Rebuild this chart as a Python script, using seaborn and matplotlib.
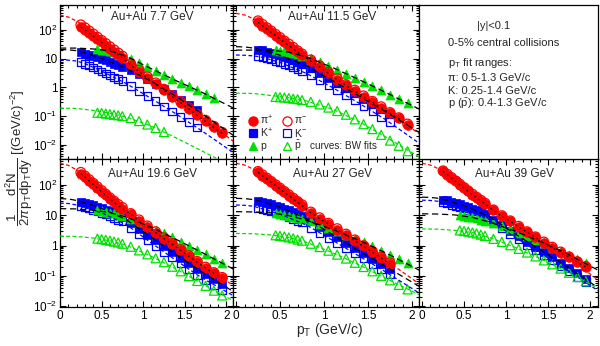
import numpy as np
import pandas as pd
import matplotlib
matplotlib.use("Agg")
import matplotlib.pyplot as plt
import seaborn as sns
from matplotlib.ticker import LogLocator, MultipleLocator, FuncFormatter, NullFormatter

sns.set_theme(style="ticks")
plt.rcParams['font.family'] = ['Liberation Sans', 'DejaVu Sans']
plt.rcParams['mathtext.fontset'] = 'custom'
plt.rcParams['mathtext.rm'] = 'Liberation Sans'
plt.rcParams['mathtext.it'] = 'Liberation Sans:italic'
plt.rcParams['mathtext.bf'] = 'Liberation Sans:bold'
plt.rcParams['mathtext.sf'] = 'Liberation Sans'

# ---------------- data (log10 of yield) ----------------
energies = ["7.7", "11.5", "19.6", "27", "39"]
pt_lo = [0.25, 0.30, 0.35, 0.40, 0.45, 0.50, 0.55, 0.60, 0.65, 0.70, 0.75]
pt_plo = [0.45, 0.50, 0.55, 0.60, 0.65, 0.70, 0.75]
pt_hi = [0.85, 0.95, 1.05, 1.15, 1.25, 1.35, 1.45, 1.55, 1.65, 1.75, 1.85, 1.95]
pt_pi = pt_lo + pt_hi
pt_k = pt_lo + pt_hi
pt_p = pt_plo + pt_hi
fit_pt = [0.0, 0.1, 0.2, 0.3, 0.5, 0.8, 1.1, 1.4, 1.7, 2.1]
fit_pt_p = [0.0, 0.2, 0.4, 0.6, 0.8, 1.1, 1.4, 1.7, 2.1]

# 7.7 GeV
log_pip_77 = [2.10, 2.00, 1.89, 1.78, 1.67, 1.57, 1.46, 1.35, 1.25, 1.14, 1.03, 0.78, 0.55, 0.33, 0.12, -0.10, -0.32, -0.53, -0.75, -0.97, -1.18, -1.39, -1.60]
log_pim_77 = [2.18, 2.08, 1.97, 1.86, 1.75, 1.64, 1.53, 1.42, 1.31, 1.20, 1.09, 0.83, 0.60, 0.37, 0.16, -0.06, -0.28, -0.49, -0.71, -0.93, -1.14, -1.35, -1.56]
log_kp_77 = [1.22, 1.18, 1.14, 1.10, 1.05, 1.00, 0.95, 0.89, 0.83, 0.77, 0.71, 0.60, 0.46, 0.30, 0.12, -0.05, -0.23, -0.42, -0.60, -0.80]
log_km_77 = [0.88, 0.82, 0.76, 0.70, 0.63, 0.56, 0.49, 0.42, 0.35, 0.29, 0.22, 0.05, -0.12, -0.30, -0.48, -0.66, -0.84, -1.02, -1.20, -1.40]
log_pp_77 = [1.33, 1.32, 1.30, 1.27, 1.24, 1.20, 1.15, 1.00, 0.86, 0.72, 0.58, 0.44, 0.30, 0.17, 0.04, -0.09, -0.23, -0.36]
log_pb_77 = [-0.88, -0.89, -0.91, -0.93, -0.95, -0.97, -1.00, -1.06, -1.17, -1.29, -1.41, -1.55]
fit_pi_77 = [2.52, 2.45, 2.31, 2.12, 1.66, 0.97, 0.30, -0.38, -1.03, -1.91]
fit_kp_77 = [1.32, 1.31, 1.28, 1.21, 1.01, 0.66, 0.21, -0.32, -0.90, -1.70]
fit_km_77 = [0.96, 0.95, 0.92, 0.83, 0.57, 0.13, -0.39, -0.93, -1.50, -2.30]
fit_pp_77 = [1.37, 1.37, 1.34, 1.27, 1.08, 0.65, 0.23, -0.16, -0.74]
fit_pb_77 = [-0.72, -0.73, -0.80, -0.90, -1.03, -1.35, -1.76, -2.20, -2.80]

# 11.5 GeV
log_pip_115 = [2.27, 2.15, 2.03, 1.92, 1.80, 1.69, 1.57, 1.46, 1.35, 1.23, 1.12, 0.92, 0.72, 0.49, 0.27, 0.07, -0.12, -0.32, -0.51, -0.70, -0.90, -1.08, -1.30]
log_pim_115 = [2.32, 2.20, 2.08, 1.97, 1.85, 1.74, 1.62, 1.51, 1.40, 1.28, 1.17, 0.96, 0.76, 0.53, 0.31, 0.10, -0.09, -0.29, -0.48, -0.67, -0.87, -1.05, -1.27]
log_kp_115 = [1.32, 1.29, 1.25, 1.21, 1.17, 1.12, 1.07, 1.02, 0.96, 0.90, 0.83, 0.66, 0.49, 0.32, 0.14, -0.03, -0.21, -0.39, -0.57, -0.75, -0.93]
log_km_115 = [1.09, 1.05, 1.01, 0.97, 0.92, 0.87, 0.82, 0.76, 0.70, 0.63, 0.56, 0.42, 0.25, 0.08, -0.10, -0.28, -0.46, -0.64, -0.83, -1.02, -1.21]
log_pp_115 = [1.30, 1.28, 1.26, 1.23, 1.19, 1.15, 1.11, 1.01, 0.89, 0.76, 0.62, 0.48, 0.34, 0.20, 0.05, -0.10, -0.25, -0.40, -0.55]
log_pb_115 = [-0.33, -0.34, -0.35, -0.37, -0.39, -0.41, -0.44, -0.50, -0.59, -0.70, -0.82, -0.95, -1.11, -1.28, -1.45, -1.65, -1.85, -2.03, -2.22]
fit_pi_115 = [2.58, 2.52, 2.39, 2.20, 1.74, 1.06, 0.42, -0.19, -0.78, -1.65]
fit_kp_115 = [1.42, 1.41, 1.37, 1.30, 1.12, 0.75, 0.23, -0.30, -0.84, -1.60]
fit_km_115 = [1.13, 1.12, 1.10, 1.05, 0.87, 0.49, -0.01, -0.55, -1.12, -1.98]
fit_pp_115 = [1.30, 1.30, 1.29, 1.23, 1.06, 0.69, 0.27, -0.17, -0.78]
fit_pb_115 = [-0.20, -0.21, -0.28, -0.36, -0.47, -0.76, -1.19, -1.72, -2.45]

# 19.6 GeV
log_pip_196 = [2.38, 2.26, 2.14, 2.02, 1.90, 1.78, 1.66, 1.54, 1.43, 1.32, 1.22, 1.03, 0.82, 0.62, 0.43, 0.23, 0.04, -0.16, -0.36, -0.55, -0.74, -0.92, -1.08]
log_pim_196 = [2.42, 2.30, 2.18, 2.06, 1.94, 1.82, 1.70, 1.58, 1.47, 1.36, 1.26, 1.06, 0.85, 0.65, 0.46, 0.26, 0.07, -0.13, -0.33, -0.52, -0.71, -0.89, -1.05]
log_kp_196 = [1.45, 1.41, 1.37, 1.33, 1.28, 1.23, 1.18, 1.13, 1.07, 1.01, 0.95, 0.75, 0.55, 0.36, 0.17, -0.02, -0.21, -0.40, -0.59, -0.77, -0.94, -1.10, -1.26]
log_km_196 = [1.30, 1.26, 1.22, 1.18, 1.13, 1.08, 1.03, 0.97, 0.91, 0.85, 0.79, 0.58, 0.38, 0.18, -0.02, -0.21, -0.40, -0.59, -0.78, -0.97, -1.15, -1.31, -1.47]
log_pp_196 = [1.16, 1.14, 1.12, 1.09, 1.06, 1.02, 0.98, 0.89, 0.78, 0.66, 0.53, 0.40, 0.27, 0.13, -0.01, -0.15, -0.29, -0.43, -0.58]
log_pb_196 = [0.23, 0.21, 0.19, 0.16, 0.13, 0.10, 0.06, -0.04, -0.16, -0.29, -0.42, -0.55, -0.70, -0.85, -1.01, -1.17, -1.33, -1.49, -1.65]
fit_pi_196 = [2.72, 2.65, 2.50, 2.30, 1.82, 1.16, 0.56, -0.03, -0.62, -1.35]
fit_kp_196 = [1.55, 1.54, 1.49, 1.41, 1.23, 0.85, 0.27, -0.31, -0.86, -1.55]
fit_km_196 = [1.40, 1.39, 1.34, 1.26, 1.08, 0.69, 0.08, -0.50, -1.06, -1.68]
fit_pp_196 = [1.22, 1.21, 1.17, 1.09, 0.94, 0.60, 0.20, -0.22, -0.80]
fit_pb_196 = [0.31, 0.30, 0.25, 0.16, 0.01, -0.36, -0.78, -1.25, -1.85]

# 27 GeV
log_pip_27 = [2.42, 2.31, 2.20, 2.09, 1.98, 1.87, 1.76, 1.65, 1.54, 1.43, 1.32, 1.08, 0.89, 0.71, 0.53, 0.35, 0.16, -0.03, -0.22, -0.41, -0.60]
log_pim_27 = [2.45, 2.34, 2.23, 2.12, 2.01, 1.90, 1.79, 1.68, 1.57, 1.46, 1.35, 1.11, 0.92, 0.74, 0.56, 0.38, 0.19, 0.00, -0.19, -0.38, -0.57]
log_kp_27 = [1.48, 1.45, 1.41, 1.37, 1.32, 1.27, 1.22, 1.16, 1.10, 1.04, 0.98, 0.80, 0.62, 0.45, 0.27, 0.09, -0.09, -0.26, -0.43, -0.60, -0.77]
log_km_27 = [1.25, 1.21, 1.17, 1.13, 1.09, 1.04, 0.99, 0.94, 0.88, 0.82, 0.76, 0.59, 0.42, 0.25, 0.08, -0.09, -0.26, -0.43, -0.60, -0.78, -0.95]
log_pp_27 = [1.06, 1.04, 1.02, 0.99, 0.96, 0.92, 0.88, 0.80, 0.70, 0.59, 0.47, 0.35, 0.23, 0.11, -0.03, -0.17, -0.31, -0.45, -0.59]
log_pb_27 = [0.34, 0.32, 0.30, 0.27, 0.24, 0.20, 0.16, 0.06, -0.05, -0.17, -0.30, -0.43, -0.57, -0.71, -0.85, -1.00, -1.15, -1.30, -1.45]
fit_pi_27 = [2.72, 2.66, 2.52, 2.34, 1.90, 1.23, 0.65, 0.10, -0.48, -1.30]
fit_kp_27 = [1.56, 1.55, 1.52, 1.45, 1.27, 0.89, 0.36, -0.18, -0.69, -1.38]
fit_km_27 = [1.34, 1.33, 1.30, 1.21, 1.04, 0.68, 0.17, -0.35, -0.87, -1.60]
fit_pp_27 = [1.12, 1.11, 1.08, 0.99, 0.84, 0.53, 0.17, -0.24, -0.84]
fit_pb_27 = [0.40, 0.39, 0.35, 0.27, 0.11, -0.24, -0.64, -1.08, -1.65]

# 39 GeV
log_pip_39 = [2.45, 2.34, 2.23, 2.12, 2.01, 1.90, 1.79, 1.68, 1.58, 1.48, 1.38, 1.16, 0.97, 0.80, 0.62, 0.44, 0.27, 0.10, -0.07, -0.23, -0.39, -0.55, -0.71]
log_pim_39 = [2.47, 2.36, 2.25, 2.14, 2.03, 1.92, 1.81, 1.70, 1.60, 1.50, 1.40, 1.18, 0.99, 0.82, 0.64, 0.46, 0.29, 0.12, -0.05, -0.21, -0.37, -0.53, -0.69]
log_kp_39 = [1.52, 1.49, 1.45, 1.41, 1.37, 1.32, 1.27, 1.22, 1.17, 1.11, 1.05, 0.86, 0.67, 0.49, 0.31, 0.13, -0.04, -0.21, -0.38, -0.56, -0.74, -0.92, -1.10]
log_km_39 = [1.42, 1.39, 1.35, 1.31, 1.27, 1.22, 1.17, 1.12, 1.07, 1.01, 0.95, 0.75, 0.56, 0.38, 0.20, 0.02, -0.15, -0.32, -0.49, -0.67, -0.85, -1.03, -1.21]
log_pp_39 = [1.00, 0.98, 0.96, 0.93, 0.90, 0.86, 0.82, 0.74, 0.64, 0.54, 0.43, 0.32, 0.20, 0.08, -0.04, -0.17, -0.30, -0.44, -0.58]
log_pb_39 = [0.50, 0.48, 0.46, 0.43, 0.40, 0.36, 0.32, 0.22, 0.12, 0.01, -0.11, -0.23, -0.36, -0.49, -0.62, -0.76, -0.90, -1.04, -1.18]
fit_pi_39 = [2.72, 2.66, 2.53, 2.36, 1.92, 1.29, 0.73, 0.20, -0.30, -1.15]
fit_kp_39 = [1.60, 1.59, 1.56, 1.49, 1.32, 0.96, 0.40, -0.13, -0.65, -1.40]
fit_km_39 = [1.50, 1.49, 1.46, 1.39, 1.22, 0.85, 0.29, -0.24, -0.76, -1.50]
fit_pp_39 = [1.05, 1.04, 1.01, 0.93, 0.78, 0.485, 0.14, -0.235, -0.82]
fit_pb_39 = [0.55, 0.54, 0.50, 0.43, 0.27, -0.05, -0.425, -0.83, -1.42]

points = {
    "7.7": dict(pip=log_pip_77, pim=log_pim_77, kp=log_kp_77, km=log_km_77, pp=log_pp_77, pb=log_pb_77),
    "11.5": dict(pip=log_pip_115, pim=log_pim_115, kp=log_kp_115, km=log_km_115, pp=log_pp_115, pb=log_pb_115),
    "19.6": dict(pip=log_pip_196, pim=log_pim_196, kp=log_kp_196, km=log_km_196, pp=log_pp_196, pb=log_pb_196),
    "27": dict(pip=log_pip_27, pim=log_pim_27, kp=log_kp_27, km=log_km_27, pp=log_pp_27, pb=log_pb_27),
    "39": dict(pip=log_pip_39, pim=log_pim_39, kp=log_kp_39, km=log_km_39, pp=log_pp_39, pb=log_pb_39),
}
fits = {
    "7.7": dict(pi=fit_pi_77, kp=fit_kp_77, km=fit_km_77, pp=fit_pp_77, pb=fit_pb_77),
    "11.5": dict(pi=fit_pi_115, kp=fit_kp_115, km=fit_km_115, pp=fit_pp_115, pb=fit_pb_115),
    "19.6": dict(pi=fit_pi_196, kp=fit_kp_196, km=fit_km_196, pp=fit_pp_196, pb=fit_pb_196),
    "27": dict(pi=fit_pi_27, kp=fit_kp_27, km=fit_km_27, pp=fit_pp_27, pb=fit_pb_27),
    "39": dict(pi=fit_pi_39, kp=fit_kp_39, km=fit_km_39, pp=fit_pp_39, pb=fit_pb_39),
}

RED, BLUE, GREEN = "#ff0000", "#0000ff", "#00e000"
pt_of = dict(pip=pt_pi, pim=pt_pi, kp=pt_k, km=pt_k, pp=pt_p, pb=pt_p)
mstyle = {
    "pim": dict(marker="o", s=48, facecolor="none", edgecolor=RED, linewidth=0.9),
    "pip": dict(marker="o", s=48, facecolor=RED, edgecolor=RED, linewidth=0.5),
    "km": dict(marker="s", s=30, facecolor="none", edgecolor=BLUE, linewidth=0.9),
    "kp": dict(marker="s", s=30, facecolor=BLUE, edgecolor=BLUE, linewidth=0.5),
    "pb": dict(marker="^", s=42, facecolor="none", edgecolor=GREEN, linewidth=0.9),
    "pp": dict(marker="^", s=42, facecolor=GREEN, edgecolor=GREEN, linewidth=0.5),
}
draw_order = ["km", "kp", "pb", "pp", "pim", "pip"]

rows = []
for e in energies:
    for sp, vals in points[e].items():
        for x, v in zip(pt_of[sp], vals):
            rows.append(dict(energy=e, species=sp, pt=x, y=10.0 ** v))
df = pd.DataFrame(rows)

frows = []
for e in energies:
    for sp, vals in fits[e].items():
        xs = fit_pt_p if sp in ("pp", "pb") else fit_pt
        for x, v in zip(xs, vals):
            frows.append(dict(energy=e, curve=sp, pt=x, y=10.0 ** v))
dff = pd.DataFrame(frows)

fit_style = {
    "pi": dict(color=RED, linestyle=(0, (3, 2)), linewidth=0.9),
    "km": dict(color=BLUE, linestyle=(0, (3, 2)), linewidth=0.9),
    "pb": dict(color=GREEN, linestyle=(0, (3, 2)), linewidth=0.9),
    "kp": dict(color="black", linestyle=(0, (5, 3)), linewidth=0.9),
    "pp": dict(color="black", linestyle=(0, (5, 3)), linewidth=0.9),
}

# ---------------- layout ----------------
W, H = 600, 346
cols = [(60, 233), (233, 419), (419, 598)]
rows_px = [(5, 159), (159, 307)]
xlims = [(0.0, 2.08), (-0.034, 2.08), (-0.036, 2.095)]
ylims = [(10 ** -2.49, 10 ** 2.87), (10 ** -2.03, 10 ** 2.86)]

def rect(c, r):
    x0, x1 = cols[c]
    y0, y1 = rows_px[r]
    return [x0 / W, 1 - y1 / H, (x1 - x0) / W, (y1 - y0) / H]

layout = {"7.7": (0, 0), "11.5": (1, 0), "19.6": (0, 1), "27": (1, 1), "39": (2, 1)}

fig = plt.figure(figsize=(6.0, 3.46), dpi=100)
fig.patch.set_facecolor("white")

def ytick_fmt(v, pos):
    m = {100: r"$10^{2}$", 10: "10", 1: "1", 0.1: r"$10^{-1}$", 0.01: r"$10^{-2}$"}
    for k, s in m.items():
        if abs(v - k) < 1e-9 * max(k, 1):
            return s
    return ""

axes = {}
for e in energies:
    c, r = layout[e]
    ax = fig.add_axes(rect(c, r))
    axes[e] = ax
    ax.set_yscale("log")
    ax.set_xlim(*xlims[c])
    ax.set_ylim(*ylims[r])
    sub = df[df.energy == e]
    for sp in draw_order:
        s = sub[sub.species == sp]
        sns.scatterplot(data=s, x="pt", y="y", ax=ax, legend=False, zorder=2, **mstyle[sp])
    # black line through pi+ points (fit for pi+)
    s = sub[sub.species == "pip"]
    sns.lineplot(data=s, x="pt", y="y", ax=ax, color="black", linestyle=(0, (1.5, 2.5)),
                 linewidth=0.9, estimator=None, sort=False, legend=False, zorder=4)
    fsub = dff[dff.energy == e]
    for cv in ["pi", "km", "pb", "kp", "pp"]:
        f = fsub[fsub.curve == cv]
        sns.lineplot(data=f, x="pt", y="y", ax=ax, estimator=None, sort=False,
                     legend=False, zorder=3, **fit_style[cv])
    ax.set_xlabel("")
    ax.set_ylabel("")
    ax.xaxis.set_major_locator(MultipleLocator(0.5))
    ax.xaxis.set_minor_locator(MultipleLocator(0.1))
    ax.yaxis.set_major_locator(LogLocator(base=10, numticks=20))
    ax.yaxis.set_minor_locator(LogLocator(base=10, subs=np.arange(2, 10), numticks=20))
    ax.yaxis.set_minor_formatter(NullFormatter())
    ax.tick_params(which="both", direction="in", top=True, right=True, width=0.8,
                   colors="black", labelsize=8.5, pad=2)
    ax.tick_params(which="major", length=4.0)
    ax.tick_params(which="minor", length=2.0)
    if c == 0:
        ax.yaxis.set_major_formatter(FuncFormatter(ytick_fmt))
    else:
        ax.yaxis.set_major_formatter(NullFormatter())
    if r == 1:
        ax.xaxis.set_major_formatter(FuncFormatter(lambda v, p: f"{v:g}"))
    else:
        ax.xaxis.set_major_formatter(NullFormatter())
    for sp_ in ax.spines.values():
        sp_.set_linewidth(0.9)
        sp_.set_color("black")
    ty = 0.92 if r == 0 else 0.90
    ax.text(0.535, ty, f"Au+Au {e} GeV", transform=ax.transAxes, ha="center",
            va="center", fontsize=8.5)

# hand-placed legend in the 11.5 GeV panel
ax = axes["11.5"]
leg_rows_y = [0.250, 0.168, 0.086]
leg_items = [
    (0.108, 0.145, leg_rows_y[0], "o", 6.6, RED, RED, r"π$^{+}$"),
    (0.292, 0.328, leg_rows_y[0], "o", 6.6, "none", RED, r"π$^{-}$"),
    (0.108, 0.145, leg_rows_y[1], "s", 5.4, BLUE, BLUE, r"K$^{+}$"),
    (0.292, 0.328, leg_rows_y[1], "s", 5.4, "none", BLUE, r"K$^{-}$"),
    (0.108, 0.145, leg_rows_y[2], "^", 6.2, GREEN, GREEN, "p"),
    (0.292, 0.328, leg_rows_y[2], "^", 6.2, "none", GREEN, r"$\mathrm{\bar{p}}$"),
]
for mx, lx, yy, mk, ms, fc, ec, lab in leg_items:
    ax.plot([mx], [yy], marker=mk, ms=ms, mfc=fc, mec=ec, mew=0.9, ls="",
            transform=ax.transAxes, clip_on=False, zorder=6)
    ax.text(lx, yy, lab, transform=ax.transAxes, ha="left", va="center",
            fontsize=7.5, zorder=6)
ax.text(0.415, 0.086, "curves: BW fits", transform=ax.transAxes, ha="left",
        va="center", fontsize=7.2, zorder=6)

# text panel
axt = fig.add_axes(rect(2, 0))
axt.set_xticks([])
axt.set_yticks([])
for sp_ in axt.spines.values():
    sp_.set_linewidth(0.9)
    sp_.set_color("black")
tx = (448 - 419) / 179
def ty_(ypx):
    return 1 - (ypx - 5) / 154
axt.text((477 - 419) / 179, ty_(26), "|y|<0.1", transform=axt.transAxes, fontsize=8, va="center")
axt.text(tx, ty_(43), "0-5% central collisions", transform=axt.transAxes, fontsize=8, va="center")
axt.text(tx, ty_(63), r"p$_{\mathrm{T}}$ fit ranges:", transform=axt.transAxes, fontsize=8, va="center")
axt.text(tx, ty_(78), "π: 0.5-1.3 GeV/c", transform=axt.transAxes, fontsize=8, va="center")
axt.text(tx, ty_(91), "K: 0.25-1.4 GeV/c", transform=axt.transAxes, fontsize=8, va="center")
axt.text(tx, ty_(104), r"p ($\mathrm{\bar{p}}$): 0.4-1.3 GeV/c", transform=axt.transAxes, fontsize=8, va="center")

# axis titles
fig.text(330 / W, 1 - 330 / H, r"p$_{\mathrm{T}}$ (GeV/c)", ha="center", va="center", fontsize=10)
fig.text(19 / W, 1 - 158 / H,
         r"$\dfrac{1}{2\pi}\dfrac{\mathrm{d}^{2}\mathrm{N}}{\mathrm{p}_{\mathrm{T}}\mathrm{dp}_{\mathrm{T}}\mathrm{dy}}$ [(GeV/c)$^{-2}$]",
         rotation=90, ha="center", va="center", fontsize=9.5)

fig.savefig("out.png", dpi=100, facecolor="white")
